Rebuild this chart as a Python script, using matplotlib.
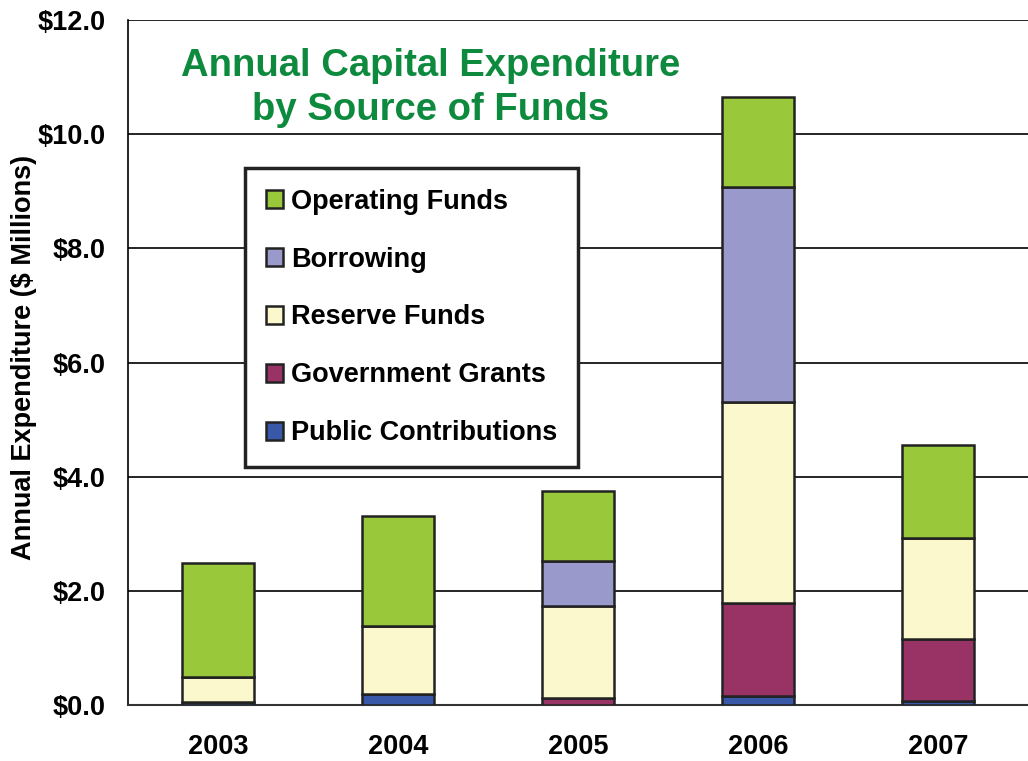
import matplotlib.pyplot as plt
import numpy as np

plt.rcParams['font.family'] = ['Liberation Sans', 'DejaVu Sans']
plt.rcParams['font.weight'] = 'bold'

# Data ($ millions)
years = ['2003', '2004', '2005', '2006', '2007']
public = [0.05, 0.20, 0.00, 0.16, 0.075]
grants = [0.00, 0.00, 0.13, 1.63, 1.075]
reserve = [0.44, 1.18, 1.60, 3.52, 1.78]
borrowing = [0.00, 0.00, 0.79, 3.76, 0.00]
operating = [2.00, 1.93, 1.23, 1.58, 1.63]

series = [
    ('Public Contributions', public, '#3A58A8'),
    ('Government Grants', grants, '#993366'),
    ('Reserve Funds', reserve, '#FBF8CE'),
    ('Borrowing', borrowing, '#9999CC'),
    ('Operating Funds', operating, '#99C93A'),
]

fig = plt.figure(figsize=(10.28, 7.61), dpi=100)
ax = fig.add_axes([0.1245, 0.0736, 0.8755, 0.9001])

x = np.arange(len(years))
bottom = np.zeros(len(years))
for name, vals, col in series:
    vals = np.array(vals)
    ax.bar(x, vals, width=0.4, bottom=bottom, color=col, edgecolor='#222222',
           linewidth=1.8, label=name, zorder=3)
    bottom += vals

ax.set_xlim(-0.5, 4.5)
ax.set_ylim(0, 12)
ax.set_yticks(np.arange(0, 12.1, 2))
ax.set_yticklabels(['$%.1f' % v for v in np.arange(0, 12.1, 2)], fontsize=19.5, fontweight='bold')
ax.set_xticks(x)
ax.set_xticklabels(years, fontsize=19.5, fontweight='bold')
ax.tick_params(axis='y', length=0, pad=16)
ax.tick_params(axis='x', length=0, pad=21)
ax.yaxis.grid(True, color='black', linewidth=1.2, zorder=0)
ax.set_axisbelow(True)
for s in ['top', 'right']:
    ax.spines[s].set_visible(False)
ax.spines['left'].set_linewidth(1.2)
ax.spines['bottom'].set_linewidth(1.5)
ax.spines['bottom'].set_color('#333333')

ax.set_ylabel('Annual Expenditure ($ Millions)', fontsize=19.5, fontweight='bold')
ax.yaxis.set_label_coords(-0.101, 0.508)

ax.text(0.336, 0.901, 'Annual Capital Expenditure\nby Source of Funds', transform=ax.transAxes,
        ha='center', va='center', fontsize=27.5, fontweight='bold', color='#0E8A3E', linespacing=1.3)

handles, labels = ax.get_legend_handles_labels()
leg = ax.legend(handles[::-1], labels[::-1], loc='upper left', bbox_to_anchor=(0.13, 0.784),
                borderaxespad=0, fontsize=19.5, frameon=True, fancybox=False, framealpha=1,
                labelspacing=1.18, handlelength=0.65, handleheight=0.65, handletextpad=0.3,
                borderpad=0.76)
leg.get_frame().set_edgecolor('#222222')
leg.get_frame().set_linewidth(2.5)
leg.set_zorder(5)

plt.savefig('out.png', dpi=100)
